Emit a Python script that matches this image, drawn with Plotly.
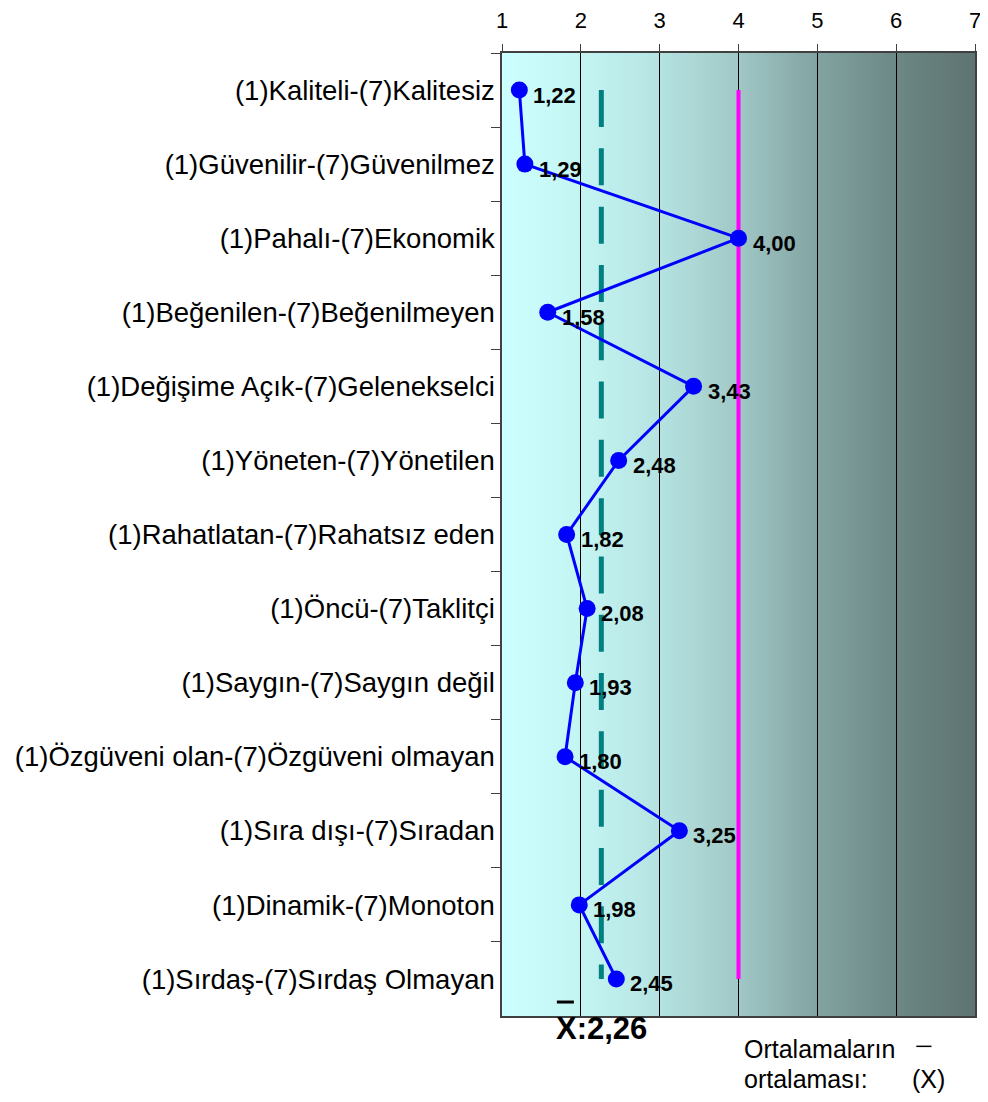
import plotly.graph_objects as go
import numpy as np

categories = [
    "(1)Kaliteli-(7)Kalitesiz",
    "(1)Güvenilir-(7)Güvenilmez",
    "(1)Pahalı-(7)Ekonomik",
    "(1)Beğenilen-(7)Beğenilmeyen",
    "(1)Değişime Açık-(7)Gelenekselci",
    "(1)Yöneten-(7)Yönetilen",
    "(1)Rahatlatan-(7)Rahatsız eden",
    "(1)Öncü-(7)Taklitçi",
    "(1)Saygın-(7)Saygın değil",
    "(1)Özgüveni olan-(7)Özgüveni olmayan",
    "(1)Sıra dışı-(7)Sıradan",
    "(1)Dinamik-(7)Monoton",
    "(1)Sırdaş-(7)Sırdaş Olmayan",
]
values = [1.22, 1.29, 4.00, 1.58, 3.43, 2.48, 1.82, 2.08, 1.93, 1.80, 3.25, 1.98, 2.45]
mean_value = 2.26
neutral_value = 4.0
x_ticks = [1, 2, 3, 4, 5, 6, 7]

FONT = "Liberation Sans, Arial, sans-serif"


def fmt(v):
    return f"{v:.2f}".replace(".", ",")


fig = go.Figure()

# background gradient strips
stops_x = [1, 2, 3, 4, 5, 6, 7]
stops_c = [(0xCC, 0xFF, 0xFF), (0xC4, 0xF5, 0xF3), (0xB5, 0xE3, 0xE1), (0xA0, 0xC8, 0xC6),
           (0x82, 0xA3, 0xA1), (0x6C, 0x88, 0x86), (0x5E, 0x73, 0x71)]
n = 120
edges = np.linspace(1, 7, n + 1)
shapes = []
for i in range(n):
    xm = (edges[i] + edges[i + 1]) / 2
    rgb = [int(round(np.interp(xm, stops_x, [c[k] for c in stops_c]))) for k in range(3)]
    col = "rgb(%d,%d,%d)" % tuple(rgb)
    shapes.append(dict(type="rect", xref="x", yref="y domain", x0=edges[i], x1=edges[i + 1] + 0.01,
                       y0=0, y1=1, fillcolor=col, line=dict(width=0), layer="below"))

# overbars
shapes.append(dict(type="line", xref="paper", yref="paper", x0=0.116, x1=0.152, y0=0.0145, y1=0.0145,
                   line=dict(color="black", width=3)))
shapes.append(dict(type="line", xref="paper", yref="paper", x0=0.876, x1=0.908, y0=-0.0315, y1=-0.0315,
                   line=dict(color="black", width=1.5)))

# mean dashed line
fig.add_trace(go.Scatter(x=[mean_value, mean_value], y=[categories[0], categories[-1]], mode="lines",
                         line=dict(color="#008080", width=5, dash="37px,21.3px"), hoverinfo="skip",
                         showlegend=False))
# neutral line
fig.add_trace(go.Scatter(x=[neutral_value, neutral_value], y=[categories[0], categories[-1]], mode="lines",
                         line=dict(color="#FF00FF", width=4), hoverinfo="skip", showlegend=False))
# profile line
fig.add_trace(go.Scatter(x=values, y=categories, mode="lines+markers",
                         line=dict(color="#0000FF", width=3),
                         marker=dict(color="#0000FF", size=17), showlegend=False))

annotations = []
for c, v in zip(categories, values):
    annotations.append(dict(x=v, y=c, xref="x", yref="y", text="<b>" + fmt(v) + "</b>",
                            showarrow=False, xanchor="left", yanchor="middle", xshift=12, yshift=-5,
                            font=dict(family=FONT, size=22, color="black")))

annotations.append(dict(x=mean_value, y=-0.0125, xref="x", yref="paper", text="<b>X:" + fmt(mean_value) + "</b>",
                        showarrow=False, xanchor="center", yanchor="middle",
                        font=dict(family=FONT, size=31, color="black")))
annotations.append(dict(x=0.5074, y=-0.0343, xref="paper", yref="paper", text="Ortalamaların",
                        showarrow=False, xanchor="left", yanchor="middle", align="left",
                        font=dict(family=FONT, size=25, color="black")))
annotations.append(dict(x=0.5074, y=-0.0654, xref="paper", yref="paper", text="ortalaması:",
                        showarrow=False, xanchor="left", yanchor="middle", align="left",
                        font=dict(family=FONT, size=25, color="black")))
annotations.append(dict(x=0.8626, y=-0.0654, xref="paper", yref="paper", text="(X)",
                        showarrow=False, xanchor="left", yanchor="middle",
                        font=dict(family=FONT, size=25, color="black")))

fig.update_layout(
    width=972, height=1086,
    margin=dict(l=494, r=5, t=45, b=78, pad=0, autoexpand=False),
    paper_bgcolor="white", plot_bgcolor="white",
    shapes=shapes, annotations=annotations,
    font=dict(family=FONT, color="black"),
    xaxis=dict(side="top", range=[1, 7], tickvals=x_ticks, ticktext=[str(t) for t in x_ticks],
               automargin=False, ticklabeloverflow="allow",
               showgrid=True, gridcolor="black", gridwidth=1, zeroline=False,
               showline=True, linecolor="#404040", linewidth=1.5, mirror=True,
               ticks="outside", ticklen=7, tickcolor="#404040", ticklabelstandoff=7,
               tickfont=dict(size=22)),
    yaxis=dict(type="category", categoryorder="array", categoryarray=categories,
               range=[len(categories) - 0.5, -0.5], tickson="boundaries", automargin=False,
               showgrid=False, zeroline=False, showline=True, linecolor="#404040", linewidth=1.5,
               mirror=True, ticks="outside", ticklen=9, tickcolor="#404040",
               tickfont=dict(size=27.5)),
)

fig.write_html("out.html")
